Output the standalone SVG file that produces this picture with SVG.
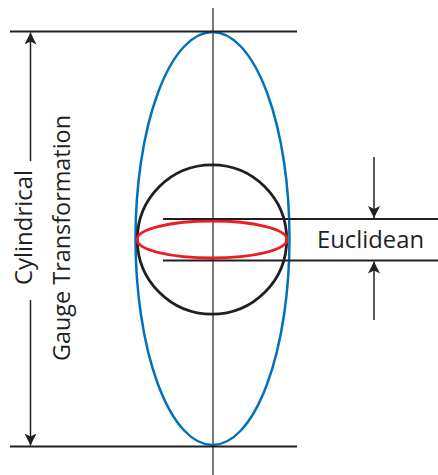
<svg xmlns="http://www.w3.org/2000/svg" width="438" height="475" viewBox="0 0 438 475">
<style>
.ln{stroke:#231f20;fill:none}
.txt{font-family:"Open Sans","Liberation Sans",sans-serif;font-size:24.5px;fill:#231f20}
</style>
<defs>
<marker id="ah" viewBox="0 0 12 12" markerWidth="12" markerHeight="12" refX="12" refY="6" orient="auto" markerUnits="userSpaceOnUse">
<path d="M0,0 L12,6 L0,12 L3,6 Z" fill="#231f20"/>
</marker>
</defs>
<rect width="438" height="475" fill="#fff"/>
<g id="axis">
<line class="ln" x1="213" y1="8" x2="213" y2="475" stroke-width="1.2"/>
</g>
<g id="blue-ellipse">
<ellipse cx="212.5" cy="238.5" rx="77" ry="206.5" fill="none" stroke="#0072bc" stroke-width="2.5"/>
</g>
<g id="circle">
<circle cx="212" cy="239.5" r="74.7" fill="none" stroke="#231f20" stroke-width="2.8"/>
</g>
<g id="red-ellipse">
<ellipse cx="212" cy="239.5" rx="75" ry="18.5" fill="none" stroke="#ed1c24" stroke-width="2.8"/>
</g>
<g id="connectors">
<line class="ln" x1="10" y1="31.5" x2="297" y2="31.5" stroke-width="2"/>
<line class="ln" x1="10" y1="446.5" x2="297" y2="446.5" stroke-width="2"/>
<line class="ln" x1="163" y1="219" x2="438" y2="219" stroke-width="2"/>
<line class="ln" x1="163" y1="260.5" x2="438" y2="260.5" stroke-width="2"/>
<line class="ln" x1="30.5" y1="161" x2="30.5" y2="32.5" stroke-width="1.5" marker-end="url(#ah)"/>
<line class="ln" x1="30.5" y1="300" x2="30.5" y2="445.5" stroke-width="1.5" marker-end="url(#ah)"/>
<line class="ln" x1="374" y1="157" x2="374" y2="218" stroke-width="1.5" marker-end="url(#ah)"/>
<line class="ln" x1="374" y1="320" x2="374" y2="261.5" stroke-width="1.5" marker-end="url(#ah)"/>
</g>
<g id="label-cylindrical">
<text class="txt" transform="translate(31.5,227.5) rotate(-90)" text-anchor="middle" textLength="115" lengthAdjust="spacingAndGlyphs">Cylindrical</text>
</g>
<g id="label-gauge">
<text class="txt" transform="translate(69.5,238) rotate(-90)" text-anchor="middle" textLength="246" lengthAdjust="spacingAndGlyphs">Gauge Transformation</text>
</g>
<g id="label-euclidean">
<text class="txt" x="317" y="248.3" textLength="107" lengthAdjust="spacingAndGlyphs">Euclidean</text>
</g>
</svg>
